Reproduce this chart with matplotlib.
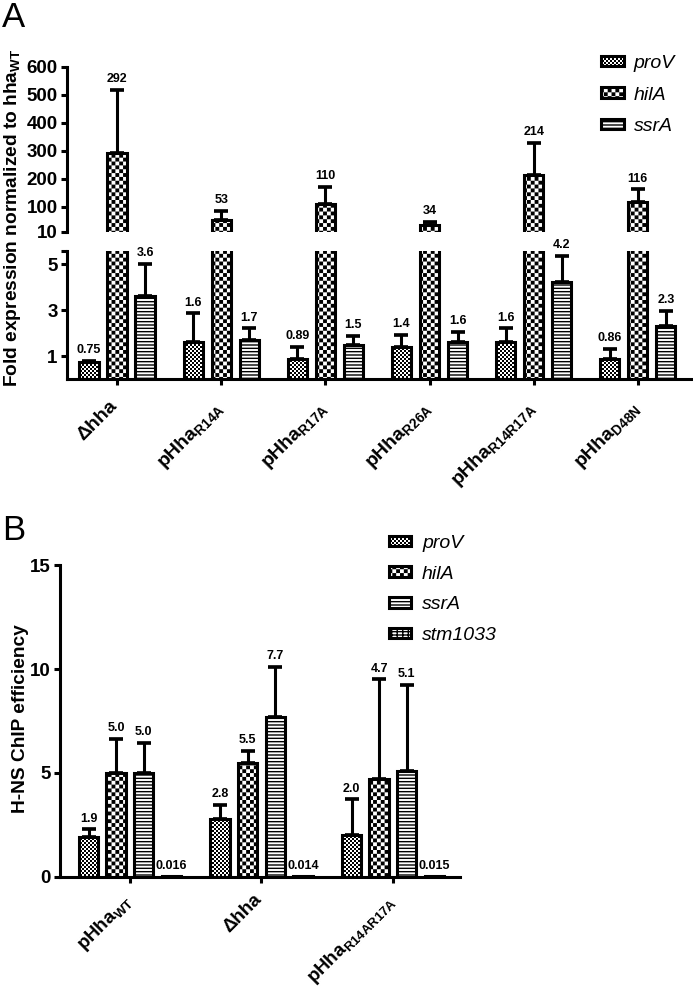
import numpy as np
import matplotlib
matplotlib.use("Agg")
import matplotlib.pyplot as plt
import matplotlib.hatch as mhatch
import matplotlib.transforms as mtrans
from matplotlib.path import Path
from matplotlib.patches import Patch
from matplotlib.font_manager import FontProperties

# ---------------- data ----------------
genes_a = ["proV", "hilA", "ssrA"]
strains_a = ["\u0394hha", r"pHha$\mathregular{_{R14A}}$", r"pHha$\mathregular{_{R17A}}$",
             r"pHha$\mathregular{_{R26A}}$", r"pHha$\mathregular{_{R14R17A}}$",
             r"pHha$\mathregular{_{D48N}}$"]
proV_a = [0.75, 1.6, 0.89, 1.4, 1.6, 0.86]
proV_a_err = [0.05, 1.25, 0.5, 0.5, 0.6, 0.44]
hilA_a = [292, 53, 110, 34, 214, 116]
hilA_a_err = [226, 32, 61, 10, 114, 45]
ssrA_a = [3.6, 1.7, 1.5, 1.6, 4.2, 2.3]
ssrA_a_err = [1.4, 0.5, 0.37, 0.46, 1.15, 0.66]

genes_b = ["proV", "hilA", "ssrA", "stm1033"]
strains_b = [r"pHha$\mathregular{_{WT}}$", "\u0394hha", r"pHha$\mathregular{_{R14AR17A}}$"]
proV_b = [1.9, 2.8, 2.0]
proV_b_err = [0.38, 0.65, 1.72]
hilA_b = [5.0, 5.5, 4.7]
hilA_b_err = [1.65, 0.54, 4.8]
ssrA_b = [5.0, 7.7, 5.1]
ssrA_b_err = [1.44, 2.4, 4.15]
stm_b = [0.016, 0.014, 0.015]
stm_b_err = [0.0, 0.0, 0.0]

# ---------------- custom checker hatches ----------------
HATCH_LW = 1.0  # pt


class _Checker(mhatch.HatchPatternBase):
    char = "o"
    cells = 50

    def __init__(self, hatch, density):
        self.on = hatch.count(self.char) > 0
        n = self.cells
        self.num_vertices = (n * n // 2) * 5 if self.on else 0

    def set_vertices_and_codes(self, vertices, codes):
        n = self.cells
        s = 1.0 / n
        d = HATCH_LW / 72.0 / 2.0
        vs, cs = [], []
        for i in range(n):
            for j in range(n):
                if (i + j) % 2 == 0:
                    x0, y0 = i * s + d, j * s + d
                    x1, y1 = (i + 1) * s - d, (j + 1) * s - d
                    vs.extend([(x0, y0), (x1, y0), (x1, y1), (x0, y1), (x0, y0)])
                    cs.extend([Path.MOVETO, Path.LINETO, Path.LINETO, Path.LINETO, Path.CLOSEPOLY])
        vertices[:] = np.array(vs)
        codes[:] = np.array(cs)


class FineChecker(_Checker):
    char = "o"
    cells = 50


class CoarseChecker(_Checker):
    char = "O"
    cells = 26


mhatch._hatch_types[:] = [mhatch.HorizontalHatch, mhatch.VerticalHatch,
                          mhatch.NorthEastHatch, mhatch.SouthEastHatch,
                          FineChecker, CoarseChecker,
                          mhatch.SmallFilledCircles, mhatch.Stars]

plt.rcParams["font.family"] = ["Liberation Sans", "DejaVu Sans"]
plt.rcParams["hatch.linewidth"] = HATCH_LW
plt.rcParams["hatch.color"] = "black"

hatches = {"proV": "o", "hilA": "O", "ssrA": "-----", "stm1033": "-----|||"}

DPI = 100
W, H = 693, 991
fig = plt.figure(figsize=(W / DPI, H / DPI), dpi=DPI)


def axes_px(l, t, r, b):
    return fig.add_axes([l / W, 1 - b / H, (r - l) / W, (b - t) / H])


LW = 2.2
TICK_FS = 13.5


def style_axes(ax, bottom=True):
    for s in ["top", "right"]:
        ax.spines[s].set_visible(False)
    ax.spines["left"].set_linewidth(LW)
    ax.spines["bottom"].set_linewidth(LW)
    ax.spines["bottom"].set_visible(bottom)
    ax.tick_params(axis="both", direction="out", length=4.5, width=LW,
                   labelsize=TICK_FS, pad=2)
    for lab in ax.get_yticklabels():
        lab.set_fontweight("bold")


def set_xlabels(ax, labels, size, pad):
    ax.set_xticklabels(labels, rotation=45, ha="right", va="top",
                       rotation_mode="anchor", fontsize=size, fontweight="bold")
    ax.tick_params(axis="x", pad=pad)
    shift = mtrans.ScaledTranslation(-8 / DPI, 0, fig.dpi_scale_trans)
    for lab in ax.get_xticklabels():
        lab.set_transform(lab.get_transform() + shift)


def draw_series(ax, x, vals, errs, width, hatch, fmt, ylim):
    vals = np.asarray(vals, float)
    errs = np.asarray(errs, float)
    vis = vals > ylim[0]
    if not vis.any():
        return
    x, vals, errs = x[vis], vals[vis], errs[vis]
    ax.bar(x, vals, width, facecolor="white", edgecolor="black", linewidth=LW,
           hatch=hatch, zorder=2)
    m = errs > 0
    if m.any():
        ax.errorbar(x[m], vals[m], yerr=[np.zeros(m.sum()), errs[m]], fmt="none",
                    ecolor="black", elinewidth=LW, capsize=5, capthick=LW * 1.2,
                    zorder=3)
    for xi, vi, ei in zip(x, vals, errs):
        if vi < ylim[1]:
            ax.annotate(fmt % vi, (xi, vi + ei), xytext=(0, 3.5),
                        textcoords="offset points", ha="center", va="bottom",
                        fontsize=9, fontweight="bold", zorder=4)


# ---------------- Panel A ----------------
ax_up = axes_px(66.7, 66.7, 692, 231.7)
ax_lo = axes_px(66.7, 250.7, 692, 379.0)
xa = np.arange(len(strains_a))
wa, offa = 0.185, 0.269
series_a = [(proV_a, proV_a_err, "%g"), (hilA_a, hilA_a_err, "%g"), (ssrA_a, ssrA_a_err, "%g")]
ylim_up = (10, 600)
ylim_lo = (0, 5.58)
for ax, ylim in [(ax_up, ylim_up), (ax_lo, ylim_lo)]:
    for k, (g, (v, e, f)) in enumerate(zip(genes_a, series_a)):
        draw_series(ax, xa + (k - 1) * offa, v, e, wa, hatches[g], f, ylim)
    ax.set_ylim(*ylim)
    ax.set_xlim(-0.483, 5.52)

ax_up.set_yticks([10, 100, 200, 300, 400, 500, 600])
ax_up.set_xticks([])
style_axes(ax_up, bottom=False)
ax_lo.set_yticks([1, 3, 5, ylim_lo[1]])
ax_lo.set_yticklabels(["1", "3", "5", ""])
ax_lo.set_xticks(xa)
style_axes(ax_lo)
set_xlabels(ax_lo, strains_a, 14, 9)

fig.text(13 / W, 1 - 217.5 / H, r"Fold expression normalized to hha$\mathregular{_{WT}}$",
         rotation=90, ha="center", va="center", fontsize=13.8, fontweight="bold")
fig.text(2 / W, 1 - 1 / H, "A", fontsize=25, ha="left", va="top")

leg_font = FontProperties(family="Liberation Sans", style="italic", size=14)
handles_a = [Patch(facecolor="white", edgecolor="black", linewidth=LW, hatch=hatches[g])
             for g in genes_a]
fig.legend(handles_a, genes_a, loc="upper left", bbox_to_anchor=(600.7 / W, 1 - 55 / H),
           frameon=False, prop=leg_font, handlelength=1.19, handleheight=0.45,
           handletextpad=0.5, labelspacing=0.75, borderpad=0, borderaxespad=0)

# ---------------- Panel B ----------------
ax_b = axes_px(60, 565.3, 460, 876.7)
xb = np.arange(len(strains_b))
wb, offb = 0.147, 0.21
series_b = [(proV_b, proV_b_err, "%.1f"), (hilA_b, hilA_b_err, "%.1f"),
            (ssrA_b, ssrA_b_err, "%.1f"), (stm_b, stm_b_err, "%.3f")]
ylim_b = (0, 15)
for k, (g, (v, e, f)) in enumerate(zip(genes_b, series_b)):
    draw_series(ax_b, xb + (k - 1.5) * offb, v, e, wb, hatches[g], f, ylim_b)
ax_b.set_ylim(*ylim_b)
ax_b.set_xlim(-0.532, 2.51)
ax_b.set_yticks([0, 5, 10, 15])
ax_b.set_xticks(xb)
style_axes(ax_b)
set_xlabels(ax_b, strains_b, 13.5, 6)

fig.text(21 / W, 1 - 718.5 / H, "H-NS ChIP efficiency", rotation=90, ha="center",
         va="center", fontsize=13.8, fontweight="bold")
fig.text(2 / W, 1 - 514 / H, "B", fontsize=25, ha="left", va="top")

handles_b = [Patch(facecolor="white", edgecolor="black", linewidth=LW, hatch=hatches[g])
             for g in genes_b]
fig.legend(handles_b, genes_b, loc="upper left", bbox_to_anchor=(389 / W, 1 - 535 / H),
           frameon=False, prop=leg_font, handlelength=1.15, handleheight=0.45,
           handletextpad=0.55, labelspacing=0.7, borderpad=0, borderaxespad=0)

fig.savefig("out.png", dpi=DPI)
